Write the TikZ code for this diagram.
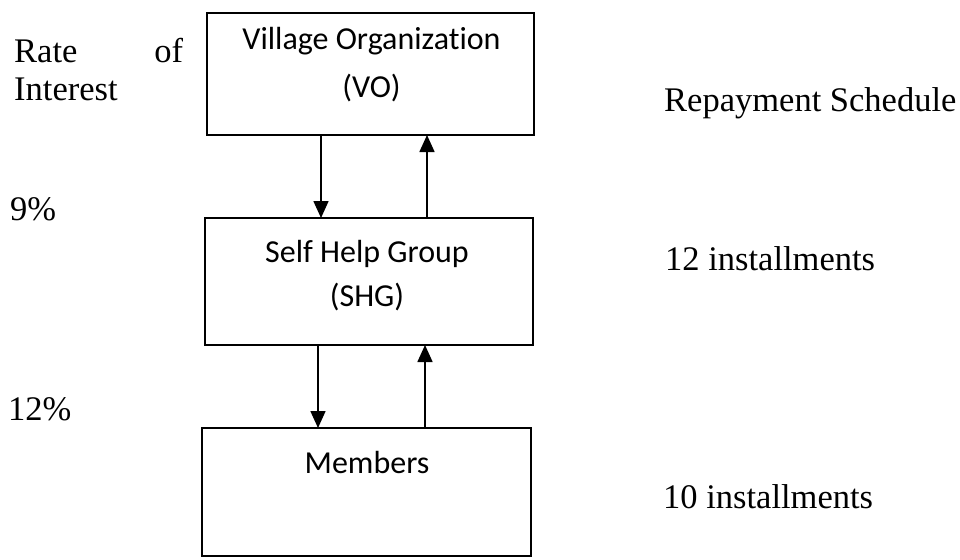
\documentclass[tikz,border=0pt]{standalone}
\usepackage{fontspec}
\setmainfont{Liberation Serif}
\newfontfamily\boxfont[Ligatures=NoCommon]{Carlito}
\usetikzlibrary{arrows.meta}
\begin{document}
\begin{tikzpicture}[x=1pt,y=-1pt,
  box/.style={draw, line width=1.6pt, inner sep=0pt, outer sep=0pt},
  boxtext/.style={font=\boxfont\fontsize{32}{38}\selectfont, inner sep=0pt, anchor=base},
  side/.style={font=\fontsize{34.5}{38}\selectfont, inner sep=0pt, anchor=base west},
  arr/.style={line width=1.6pt, -{Triangle[width=15pt,length=17pt]}}]
\useasboundingbox (0,0) rectangle (960,559);
\fill[white] (0,0) rectangle (960,559);
% boxes
\node[box, minimum width=327pt, minimum height=122pt] (vo) at (370.5,74) {};
\node[box, minimum width=328pt, minimum height=127pt] (shg) at (369,281.5) {};
\node[box, minimum width=329pt, minimum height=128pt] (mem) at (366.5,492) {};
% box texts
\node[boxtext] (vo1) at (371.5,50) {Village Organization};
\node[boxtext] (vo2) at (371.5,98) {(VO)};
\node[boxtext] (shg1) at (367,262) {Self Help Group};
\node[boxtext] (shg2) at (367,306) {(SHG)};
\node[boxtext] (mem1) at (367,473) {Members};
% arrow positions
\coordinate (d1) at (321,0);
\coordinate (u1) at (427,0);
\coordinate (d2) at (318,0);
\coordinate (u2) at (425,0);
\draw[arr] (vo.south -| d1) -- (shg.north -| d1);
\draw[arr] (shg.north -| u1) -- (vo.south -| u1);
\draw[arr] (shg.south -| d2) -- (mem.north -| d2);
\draw[arr] (mem.north -| u2) -- (shg.south -| u2);
% side labels
\node[side, align=left, anchor=north west] (rate) at (14,38.5) {\makebox[169pt][s]{Rate\hfill of}\\Interest};
\node[side] (p9) at (10,220) {9\%};
\node[side] (p12) at (8,420) {12\%};
\node[side] (rep) at (664,112) {Repayment Schedule};
\node[side] (i12) at (665,270) {12 installments};
\node[side] (i10) at (663,508) {10 installments};
\end{tikzpicture}
\end{document}
